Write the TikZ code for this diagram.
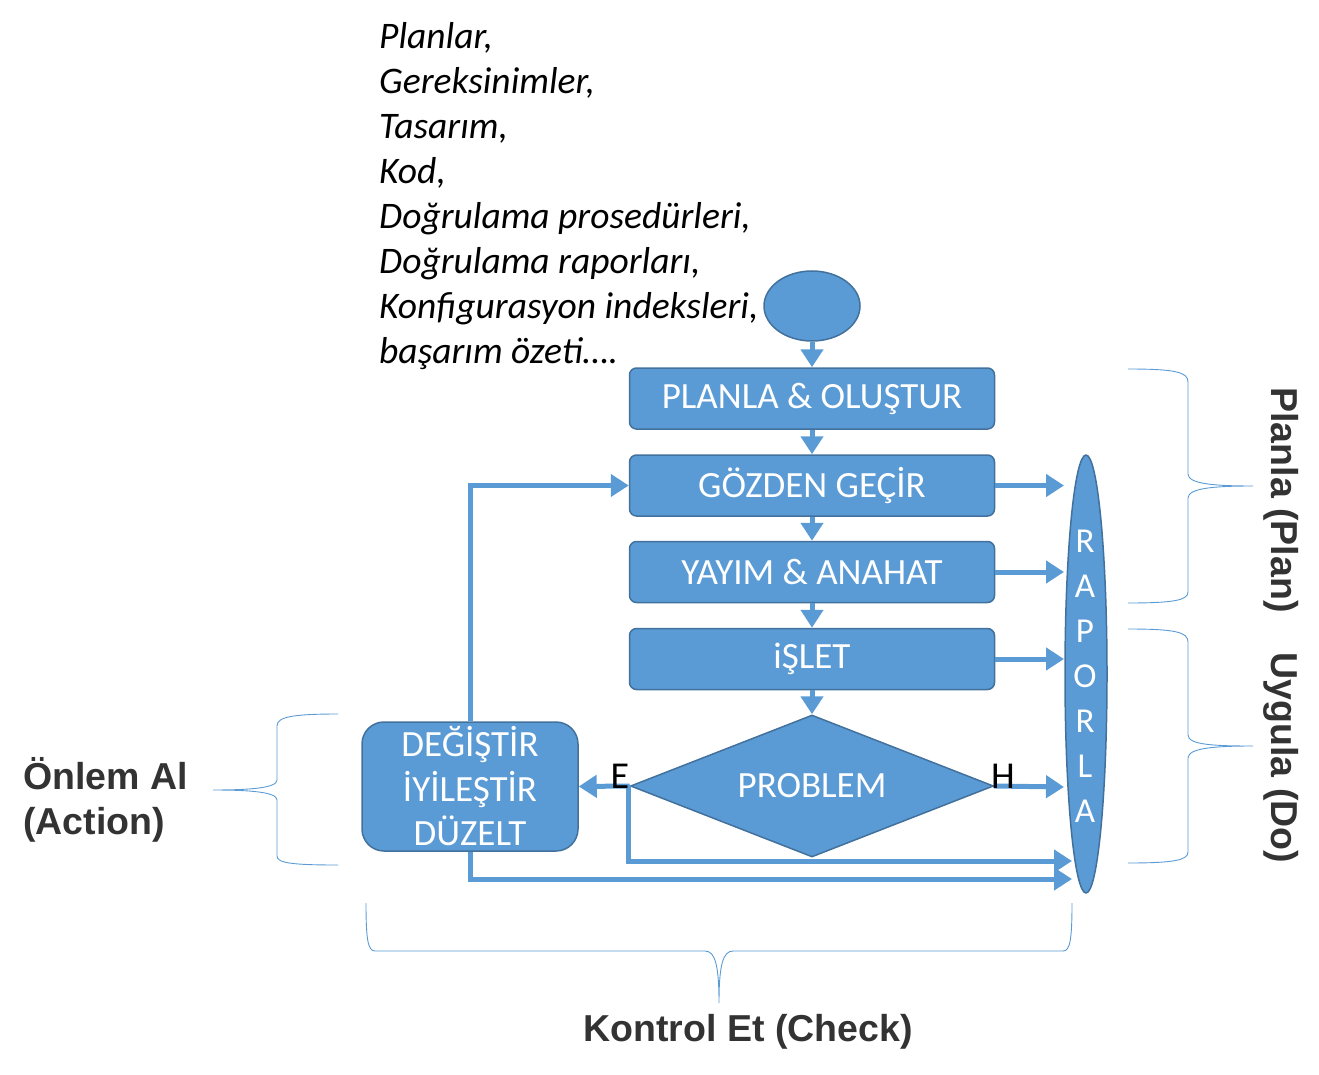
\documentclass[tikz,border=0pt]{standalone}
\usepackage{fontspec}
\setmainfont{Carlito}
\newfontfamily\lsans{Liberation Sans}
\usetikzlibrary{shapes.geometric,arrows.meta}
\definecolor{bfill}{HTML}{5B9BD5}
\definecolor{bline}{HTML}{41719C}
\definecolor{dgray}{HTML}{333333}
\begin{document}
\begin{tikzpicture}[x=1pt,y=-1pt,
  box/.style={draw=bline,line width=1.5pt,fill=bfill,rounded corners=7pt,minimum width=365pt,minimum height=61pt,inner sep=0pt,text=white,font=\fontsize{37}{40}\selectfont},
  conn/.style={draw=bfill,line width=5pt,-{Triangle[length=18pt,width=22pt]}},
  brc/.style={draw=bfill,line width=0.9pt},
  lbl/.style={text=dgray,font=\lsans\bfseries\fontsize{37.5}{45}\selectfont},
  yn/.style={text=black,font=\fontsize{38}{38}\selectfont,inner sep=0pt}]
\path[use as bounding box] (0,0) rectangle (1319,1075);

% list text
\node[anchor=north west,align=left,inner sep=0pt,font=\itshape\fontsize{37.5}{45}\selectfont] (lst) at (379,22)
 {Planlar,\\Gereksinimler,\\Tasarım,\\Kod,\\Doğrulama prosedürleri,\\Doğrulama raporları,\\Konfigurasyon indeksleri,\\başarım özeti\ldots.};

% nodes
\node[ellipse,draw=bline,line width=1.5pt,fill=bfill,minimum width=96pt,minimum height=70pt,inner sep=0pt] (start) at (812,306) {};
\node[box] (plan) at (812,398.5) {PLANLA \& OLUŞTUR};
\node[box] (rev) at (812,485.5) {GÖZDEN GEÇİR};
\node[box] (pub) at (812,572) {YAYIM \& ANAHAT};
\node[box] (run) at (812,659) {iŞLET};
\node[diamond,draw=bline,line width=1.5pt,fill=bfill,aspect=2.55,minimum width=363pt,minimum height=142pt,inner sep=0pt,text=white,font=\fontsize{37}{40}\selectfont] (prob) at (812,786) {PROBLEM};
\node[draw=bline,line width=1.5pt,fill=bfill,rounded corners=22pt,minimum width=216pt,minimum height=129pt,inner sep=0pt,text=white,align=center,font=\fontsize{37}{44.5}\selectfont] (chg) at (470,786.5) {DEĞİŞTİR\\İYİLEŞTİR\\DÜZELT};
\node[ellipse,draw=bline,line width=1.5pt,fill=bfill,minimum width=42pt,minimum height=438pt,inner sep=0pt] (rap) at (1086,674) {};
\node[text=white,align=center,inner sep=0pt,font=\fontsize{35}{45}\selectfont] (raptxt) at (1085,676) {R\\A\\P\\O\\R\\L\\A};

% free ends at RAPORLA
\coordinate (r1) at (1064,485.5);
\coordinate (r2) at (1064,572);
\coordinate (r3) at (1064,659);
\coordinate (r4) at (1064,787);
\coordinate (r5) at (1072,861);
\coordinate (r6) at (1072,879);

% connectors
\draw[conn] (start) -- (plan);
\draw[conn] (plan) -- (rev);
\draw[conn] (rev) -- (pub);
\draw[conn] (pub) -- (run);
\draw[conn] (run) -- (prob);
\draw[conn] (rev.east) -- (r1);
\draw[conn] (pub.east) -- (r2);
\draw[conn] (run.east) -- (r3);
\draw[conn] (prob.east) -- (r4);
\draw[conn] (prob.west) -- (chg.east);
\draw[conn] ([xshift=-1pt]prob.west) |- (r5);
\draw[conn] (chg.south) |- (r6);
\draw[conn] (chg.north) |- (rev.west);

\node[yn] (e) at (620,776) {E};
\node[yn] (h) at (1003,776) {H};

% braces
\draw[brc] (1128,369) .. controls (1175,369) and (1188,372) .. (1188,382) -- (1188,474)
  .. controls (1188,484) and (1215,486) .. (1253,486)
  .. controls (1215,486) and (1188,488) .. (1188,498) -- (1188,592)
  .. controls (1188,600) and (1175,603) .. (1128,603);
\draw[brc] (1128,629) .. controls (1175,629) and (1188,632) .. (1188,642) -- (1188,735)
  .. controls (1188,745) and (1215,746) .. (1253,746)
  .. controls (1215,746) and (1188,748) .. (1188,758) -- (1188,852)
  .. controls (1188,860) and (1175,863) .. (1128,863);
\draw[brc] (338,714) .. controls (292,714) and (277,717) .. (277,726) -- (277,780)
  .. controls (277,788) and (250,790) .. (213,790)
  .. controls (250,790) and (277,792) .. (277,800) -- (277,856)
  .. controls (277,863) and (292,865) .. (338,865);
\draw[brc] (366,903) .. controls (366,940) and (368,951) .. (375,951) -- (705,951)
  .. controls (715,951) and (719,965) .. (719,1003)
  .. controls (719,965) and (723,951) .. (733,951) -- (1063,951)
  .. controls (1070,951) and (1072,940) .. (1072,903);

% side labels
\node[lbl,rotate=-90] (lplan) at (1281,500) {Planla (Plan)};
\node[lbl,rotate=-90] (ldo) at (1281,758) {Uygula (Do)};
\node[lbl,anchor=west,align=left,inner sep=0pt] (lact) at (23,800) {Önlem Al\\(Action)};
\node[lbl] (lchk) at (748,1032) {Kontrol Et (Check)};
\end{tikzpicture}
\end{document}
